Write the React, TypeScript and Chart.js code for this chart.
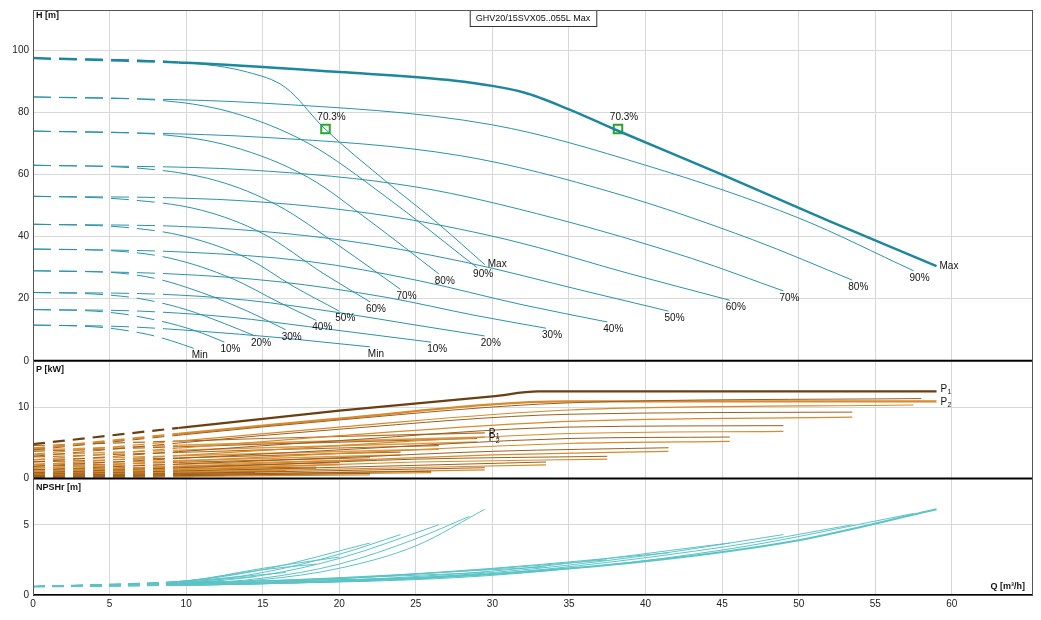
import React, { useEffect, useRef } from "react";
import { Chart, registerables } from "chart.js";
Chart.register(...registerables);

type P = [number, number];
const speedLabels = ["Max", "90%", "80%", "70%", "60%", "50%", "40%", "30%", "20%", "10%", "Min"];

const headRight: P[][] = [
  [[0,97.5],[10,96],[20,93],[27,90.5],[32,86.5],[35,81],[38,74.5],[45,60],[52,45],[59,30.5]],
  [[0,85],[15,83],[30,76],[40,63],[50,46],[57.5,29]],
  [[0,74],[15,72],[28,66],[38,54],[47,39],[53.5,26]],
  [[0,63],[14,61.5],[25,56],[34,46],[43,33],[49,22.5]],
  [[0,53],[12,52],[22,47.5],[31,39],[39,28],[45.5,19.5]],
  [[0,44],[11,43],[20,39],[28,32],[36,22.5],[41.5,16]],
  [[0,36],[10,35],[18,32],[25,26],[32,18],[37.5,12.5]],
  [[0,29],[9,28],[16,25.5],[23,20.5],[29,14.5],[33.5,10.5]],
  [[0,22],[8,21.5],[14,19.5],[20,15.5],[25,11.5],[29.5,8]],
  [[0,16.5],[7,16],[13,14],[18,11],[22,8.5],[26,6]],
  [[0,11.5],[6,11],[11,9.5],[16,7.5],[19,6],[22,4.5]],
];
const headLeft: P[][] = [
  [[0,97.5],[10,96],[14,93],[16.5,88],[19,75],[23,58],[26.5,44],[29.5,31]],
  [[0,85],[8,84],[13,80],[18,70],[23,53],[29,30]],
  [[0,74],[8,73],[13,69],[18,59],[22,45],[26.5,28]],
  [[0,63],[7,62],[12,58],[16,50],[20,37],[24,23]],
  [[0,53],[6,52],[11,48.5],[15,41],[19,28],[22,19]],
  [[0,44],[6,43],[10,40],[14,33],[17,24],[20,16]],
  [[0,36],[5,35.5],[9,33],[13,26.5],[16,19],[18.5,13]],
  [[0,29],[5,28.5],[8,26.5],[11,22],[14,16],[16.5,10]],
  [[0,22],[4,21.5],[7,20],[10,16.5],[12.5,12],[14.5,8]],
  [[0,16.5],[4,16],[6,15],[9,12],[11,9],[12.5,6]],
  [[0,11.5],[3,11.2],[5,10.5],[7.5,8.5],[9,6.5],[10.5,4]],
];
const effPoints: P[] = [[19.1,74.7],[38.2,74.7]];
const effLabel = "70.3%";

const p1Right: P[][] = [
  [[0,4.8],[10,7.2],[20,9.5],[30,11.5],[33,12.2],[59,12.2]],
  [[0,4.0],[20,8.2],[35,10.6],[58,11.2]],
  [[0,3.1],[20,6.9],[35,9.0],[53.5,9.3]],
  [[0,2.3],[20,5.3],[35,7.2],[49,7.4]],
  [[0,1.7],[20,4.0],[35,5.6],[45.5,5.8]],
  [[0,1.2],[20,2.9],[30,3.8],[41.5,4.3]],
  [[0,0.8],[15,1.9],[25,2.7],[37.5,3.1]],
  [[0,0.6],[15,1.3],[33.5,2.3]],
  [[0,0.4],[15,0.9],[29.5,1.5]],
  [[0,0.25],[26,1.0]],
  [[0,0.15],[22,0.7]],
];
const p2Right: P[][] = [
  [[0,4.2],[20,8.4],[35,10.8],[59,10.8]],
  [[0,3.4],[20,7.2],[35,9.6],[57.5,10.3]],
  [[0,2.6],[20,6.0],[35,8.0],[53.5,8.6]],
  [[0,1.9],[20,4.6],[35,6.3],[49,6.6]],
  [[0,1.4],[20,3.5],[35,4.9],[45.5,5.2]],
  [[0,1.0],[20,2.5],[30,3.3],[41.5,3.8]],
  [[0,0.7],[15,1.6],[25,2.3],[37.5,2.7]],
  [[0,0.5],[15,1.1],[33.5,1.9]],
  [[0,0.3],[15,0.7],[29.5,1.2]],
  [[0,0.2],[26,0.8]],
  [[0,0.1],[22,0.5]],
];
const p1Left: P[][] = [
  [[0,4.6],[15,5.6],[29.5,6.4]],
  [[0,3.8],[15,4.8],[29,5.6]],
  [[0,3.0],[15,4.0],[26.5,4.6]],
  [[0,2.3],[15,3.2],[24,3.7]],
  [[0,1.7],[12,2.4],[22,2.9]],
  [[0,1.2],[12,1.8],[20,2.2]],
  [[0,0.8],[10,1.3],[18.5,1.6]],
  [[0,0.6],[10,0.9],[16.5,1.1]],
  [[0,0.4],[8,0.6],[14.5,0.8]],
  [[0,0.25],[12.5,0.5]],
  [[0,0.15],[10.5,0.3]],
];
const p2Left: P[][] = [
  [[0,4.0],[15,5.0],[29.5,5.8]],
  [[0,3.3],[15,4.3],[29,5.1]],
  [[0,2.6],[15,3.5],[26.5,4.1]],
  [[0,2.0],[15,2.8],[24,3.3]],
  [[0,1.5],[12,2.1],[22,2.6]],
  [[0,1.0],[12,1.6],[20,1.9]],
  [[0,0.7],[10,1.1],[18.5,1.4]],
  [[0,0.5],[10,0.8],[16.5,1.0]],
  [[0,0.35],[8,0.5],[14.5,0.7]],
  [[0,0.2],[12.5,0.4]],
  [[0,0.1],[10.5,0.25]],
];

const npshRight: P[][] = [
  [[0,0.6],[10,0.75],[20,1.0],[30,1.5],[40,2.4],[50,3.9],[59,6.1]],
  [[0,0.6],[15,0.8],[30,1.4],[45,3.2],[57.5,5.8]],
  [[0,0.6],[15,0.8],[30,1.5],[45,3.4],[53.5,5.0]],
  [[0,0.6],[15,0.8],[30,1.6],[40,2.8],[49,4.3]],
  [[0,0.6],[15,0.85],[30,1.7],[45.5,3.7]],
  [[0,0.6],[15,0.9],[30,1.9],[41.5,3.0]],
  [[0,0.6],[15,0.9],[28,1.7],[37.5,2.5]],
  [[0,0.6],[15,1.0],[33.5,2.0]],
  [[0,0.6],[15,1.0],[29.5,1.6]],
  [[0,0.6],[15,1.0],[26,1.2]],
  [[0,0.6],[15,0.9],[22,1.0]],
];
const npshLeft: P[][] = [
  [[0,0.6],[10,0.8],[15,1.1],[20,1.9],[25,3.5],[29.5,6.1]],
  [[0,0.6],[10,0.8],[15,1.2],[20,2.2],[25,4.0],[28.5,5.6]],
  [[0,0.6],[10,0.85],[15,1.4],[20,2.6],[26.5,5.0]],
  [[0,0.6],[10,0.9],[15,1.6],[20,2.9],[24,4.3]],
  [[0,0.6],[10,1.0],[15,1.8],[22,3.7]],
  [[0,0.6],[10,1.0],[15,1.9],[20,2.7]],
  [[0,0.6],[10,1.0],[15,1.8],[18.5,2.2]],
  [[0,0.6],[10,1.0],[16.5,1.6]],
  [[0,0.6],[8,0.8],[14.5,1.3]],
  [[0,0.6],[12.5,1.0]],
  [[0,0.6],[10.5,0.8]],
];

const DASH_END = 9.5;
const X_MAX = 65.3;
const FONT = "Arial, 'Liberation Sans', sans-serif";

function line(pts: P[], color: string, width: number, axis: string, side: "L" | "R", dash: number[]) {
  return {
    type: "line" as const,
    data: pts.map(([x, y]) => ({ x, y })),
    borderColor: color,
    borderWidth: width,
    borderDash: side === "L" ? dash : [],
    pointRadius: 0,
    fill: false,
    yAxisID: axis,
    cubicInterpolationMode: "monotone" as const,
    clipSide: side,
  };
}
function both(ds: any[], pts: P[], color: string, width: number, axis: string, dash: number[]) {
  ds.push(line(pts, color, width, axis, "L", dash));
  ds.push(line(pts, color, width, axis, "R", dash));
}

export default function App() {
  const ref = useRef<HTMLCanvasElement>(null);
  useEffect(() => {
    const ds: any[] = [];
    const teal = "#2a93aa";
    const hd = [18, 8], pd = [12, 8], nd = [12, 7];
    headRight.forEach((c, i) => both(ds, c, i === 0 ? "#1d87a0" : teal, i === 0 ? 2.5 : 1, "yH", hd));
    headLeft.forEach((c) => both(ds, c, teal, 1, "yH", hd));
    p1Right.forEach((c, i) => both(ds, c, i === 0 ? "#6b3f10" : "#9a6020", i === 0 ? 2.2 : 1, "yP", pd));
    p2Right.forEach((c, i) => both(ds, c, "#d98a2b", i === 0 ? 2.2 : 1.2, "yP", pd));
    p1Left.forEach((c) => both(ds, c, "#b36e22", 1.2, "yP", pd));
    p2Left.forEach((c) => both(ds, c, "#e09a45", 1.5, "yP", pd));
    npshRight.forEach((c, i) => both(ds, c, "#5cc3c6", i === 0 ? 2 : 1, "yN", nd));
    npshLeft.forEach((c) => both(ds, c, "#5cc3c6", 1, "yN", nd));
    ds.push({
      type: "scatter",
      data: effPoints.map(([x, y]) => ({ x, y })),
      yAxisID: "yH",
      pointStyle: "rect",
      pointRadius: 6,
      borderColor: "#22aa22",
      borderWidth: 2,
      backgroundColor: "rgba(0,0,0,0)",
    });

    const filt = (step: number, maxTick = Infinity) => (s: any) => {
      s.ticks = s.ticks.filter((t: any) => t.value <= maxTick && Math.abs(t.value / step - Math.round(t.value / step)) < 1e-6);
    };
    const yAx = (max: number, step: number, w: number) => ({
      type: "linear", position: "left", stack: "s", stackWeight: w, min: 0, max,
      afterBuildTicks: filt(step),
      afterFit: (s: any) => { s.width = 33; },
      ticks: { stepSize: step, font: { size: 10, family: FONT }, color: "#222", padding: 4 },
      grid: { color: "#d8d8d8", drawTicks: false },
      border: { display: false },
    });

    const clipper = {
      id: "clipper",
      beforeDatasetDraw(chart: any, args: any) {
        const d = chart.data.datasets[args.index];
        if (!d.clipSide) return;
        const { ctx, chartArea: a } = chart;
        const xp = chart.scales.x.getPixelForValue(DASH_END);
        ctx.save();
        ctx.beginPath();
        if (d.clipSide === "L") ctx.rect(a.left, a.top, xp - a.left, a.bottom - a.top);
        else ctx.rect(xp, a.top, a.right - xp, a.bottom - a.top);
        ctx.clip();
      },
      afterDatasetDraw(chart: any, args: any) {
        const d = chart.data.datasets[args.index];
        if (d.clipSide) chart.ctx.restore();
      },
    };

    const labels = {
      id: "labels",
      afterDatasetsDraw(chart: any) {
        const { ctx, chartArea: a, scales } = chart;
        const X = scales.x, H = scales.yH, Pp = scales.yP, N = scales.yN;
        ctx.save();
        ctx.fillStyle = "#111";
        ctx.font = `10px ${FONT}`;
        ctx.textBaseline = "middle";
        const lab = (fam: P[][]) => fam.forEach((c, i) => {
          const [x, y] = c[c.length - 1];
          ctx.textAlign = i === 0 ? "left" : "center";
          const px = X.getPixelForValue(x), py = H.getPixelForValue(y);
          if (i === 0) ctx.fillText(speedLabels[i], px + 3, py);
          else ctx.fillText(speedLabels[i], px + 6, py + 7);
        });
        lab(headRight); lab(headLeft);
        ctx.textAlign = "center";
        effPoints.forEach(([x, y]) => ctx.fillText(effLabel, X.getPixelForValue(x) + 6, H.getPixelForValue(y) - 12));
        const pl = (x: number, y: number, sub: string) => {
          const px = X.getPixelForValue(x) + 4, py = Pp.getPixelForValue(y);
          ctx.textAlign = "left";
          ctx.font = `10px ${FONT}`;
          ctx.fillText("P", px, py);
          ctx.font = `7px ${FONT}`;
          ctx.fillText(sub, px + 7, py + 3);
        };
        pl(59, 12.5, "1"); pl(59, 10.7, "2"); pl(29.5, 6.4, "1"); pl(29.5, 5.7, "2");
        ctx.font = `bold 9px ${FONT}`;
        ctx.textAlign = "left";
        ctx.fillText("H [m]", a.left + 3, H.top + 6);
        ctx.fillText("P [kW]", a.left + 3, Pp.top + 9);
        ctx.fillText("NPSHr [m]", a.left + 3, N.top + 9);
        ctx.textAlign = "right";
        ctx.fillText("Q [m³/h]", a.right - 8, a.bottom - 8);
        ctx.font = `9px ${FONT}`;
        const t = "GHV20/15SVX05..055L Max";
        const tw = ctx.measureText(t).width;
        const cx = 533;
        ctx.fillStyle = "#fff";
        ctx.fillRect(cx - tw / 2 - 6, a.top, tw + 12, 16);
        ctx.strokeStyle = "#333"; ctx.lineWidth = 1;
        ctx.strokeRect(cx - tw / 2 - 6 + 0.5, a.top + 0.5, tw + 12, 16);
        ctx.fillStyle = "#111"; ctx.textAlign = "center";
        ctx.fillText(t, cx, a.top + 8.5);
        ctx.strokeStyle = "#000"; ctx.lineWidth = 2;
        [Pp.top, N.top, a.bottom].forEach((y: number) => {
          ctx.beginPath(); ctx.moveTo(a.left, y); ctx.lineTo(a.right, y); ctx.stroke();
        });
        ctx.lineWidth = 1;
        ctx.strokeStyle = "#555";
        ctx.strokeRect(a.left + 0.5, a.top + 0.5, a.right - a.left - 1, a.bottom - a.top);
        ctx.restore();
      },
    };

    const chart = new Chart(ref.current!, {
      type: "line",
      data: { datasets: ds },
      options: {
        animation: false,
        responsive: false,
        maintainAspectRatio: false,
        layout: { padding: { top: 8, right: 8, left: 0, bottom: 0 } },
        plugins: { legend: { display: false }, tooltip: { enabled: false } },
        scales: {
          x: {
            type: "linear", min: 0, max: X_MAX,
            afterBuildTicks: filt(5, 60),
            afterFit: (s: any) => { s.height = 25; },
            ticks: { stepSize: 5, font: { size: 10, family: FONT }, color: "#222" },
            grid: { color: "#d8d8d8", drawTicks: false },
            border: { display: false },
          },
          yN: yAx(8.3, 5, 117),
          yP: yAx(16.5, 10, 118),
          yH: yAx(113, 20, 352),
        } as any,
      },
      plugins: [clipper, labels],
    } as any);
    return () => chart.destroy();
  }, []);
  return (
    <div style={{ position: "fixed", left: 0, top: 0, width: 1041, height: 620, background: "#fff" }}>
      <canvas ref={ref} width={1041} height={620} style={{ width: 1041, height: 620 }} />
    </div>
  );
}
